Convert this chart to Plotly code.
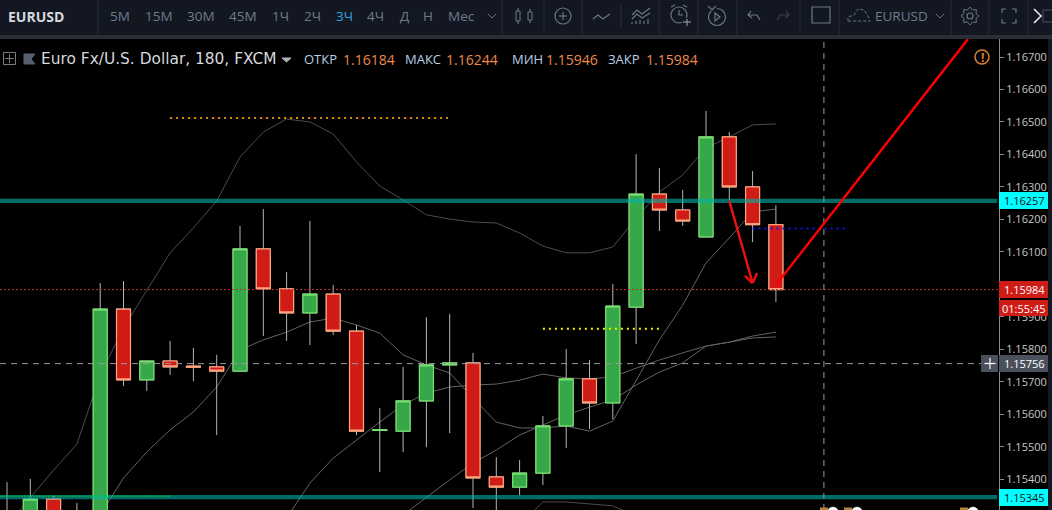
import math
import plotly.graph_objects as go

# candles, index 0..33 (prices)
opens = [1.15250, 1.15250, 1.15339, 1.15290, 1.15200, 1.15924, 1.15706, 1.15764, 1.15748, 1.15746, 1.15733, 1.16109,
         1.15986, 1.15912, 1.15970, 1.15856, 1.15550, 1.15548, 1.15641, 1.15752, 1.15758, 1.15407, 1.15376, 1.15419,
         1.15564, 1.15709, 1.15635, 1.15930, 1.16278, 1.16229, 1.16146, 1.16454, 1.16300, 1.16184]
highs = [1.15391, 1.15401, 1.15348, 1.15327, 1.16004, 1.16010, 1.15764, 1.15826, 1.15804, 1.15783, 1.16180, 1.16232,
         1.16038, 1.16195, 1.15998, 1.15875, 1.15619, 1.15746, 1.15899, 1.15909, 1.15789, 1.15468, 1.15459, 1.15595,
         1.15801, 1.15767, 1.16001, 1.16401, 1.16358, 1.16291, 1.16534, 1.16469, 1.16349, 1.16244]
lows = [1.15200, 1.15200, 1.15200, 1.15200, 1.15150, 1.15687, 1.15672, 1.15721, 1.15702, 1.15536, 1.15733, 1.15841,
        1.15826, 1.15813, 1.15844, 1.15536, 1.15422, 1.15484, 1.15499, 1.15542, 1.15311, 1.15290, 1.15351, 1.15382,
        1.15496, 1.15555, 1.15585, 1.15816, 1.16164, 1.16180, 1.16146, 1.16260, 1.16130, 1.15946]
closes = [1.15290, 1.15339, 1.15250, 1.15260, 1.15924, 1.15706, 1.15764, 1.15746, 1.15745, 1.15733, 1.16109, 1.15986,
          1.15912, 1.15970, 1.15856, 1.15548, 1.15553, 1.15641, 1.15752, 1.15758, 1.15404, 1.15376, 1.15419, 1.15564,
          1.15709, 1.15635, 1.15933, 1.16278, 1.16229, 1.16195, 1.16454, 1.16300, 1.16184, 1.15984]

# gray indicator lines
band_upper = [1.15259, 1.15345, 1.15428, 1.15508, 1.15721, 1.15866, 1.15983, 1.16097, 1.16174, 1.16257, 1.16392, 1.16469,
              1.16509, 1.16500, 1.16463, 1.16377, 1.16303, 1.16260, 1.16214, 1.16201, 1.16192, 1.16189, 1.16158, 1.16118,
              1.16097, 1.16097, 1.16115, 1.16204, 1.16284, 1.16337, 1.16420, 1.16454, 1.16491, 1.16494]
band_middle = [1.15290, 1.15404, 1.15484, 1.15552, 1.15607, 1.15684, 1.15798, 1.15829, 1.15853, 1.15884, 1.15896, 1.15875,
               1.15850, 1.15783, 1.15752, 1.15727, 1.15650, 1.15576, 1.15558, 1.15558, 1.15564, 1.15548, 1.15579, 1.15706,
               1.15829, 1.15936, 1.16066, 1.16143, 1.16223, 1.16232]
band_a = [1.15281, 1.15388, 1.15465, 1.15521, 1.15576, 1.15629, 1.15665, 1.15684, 1.15690, 1.15693, 1.15705, 1.15724,
          1.15712, 1.15709, 1.15715, 1.15742, 1.15767, 1.15789, 1.15810, 1.15822, 1.15841, 1.15853]
band_lower = [1.15290, 1.15345, 1.15398, 1.15450, 1.15490, 1.15536, 1.15567, 1.15598, 1.15622, 1.15644, 1.15690, 1.15730,
              1.15758, 1.15810, 1.15822, 1.15835, 1.15838]
band_low2 = [1.15259, 1.15330, 1.15330, 1.15324, 1.15318, 1.15287]

# 1.16000 sits fully behind the red price tag, so it is left out
tick_prices = [1.154, 1.155, 1.156, 1.157, 1.158, 1.159, 1.161, 1.162, 1.163, 1.164, 1.165, 1.166, 1.167]
tick_labels = ["1.15400", "1.15500", "1.15600", "1.15700", "1.15800", "1.15900", "1.16100", "1.16200",
               "1.16300", "1.16400", "1.16500", "1.16600", "1.16700"]

teal_levels = [1.16257, 1.15345]
last_price = 1.15984
cross_price = 1.15756
cross_x = 35.06

# drawn levels: x0, x1, price
orange_level = [7, 19, 1.16512]
yellow_level = [23, 28, 1.15863]
blue_level = [32, 36, 1.16172]
green_level = [-0.3, 7, 1.15348]

trend_x = [33, 41.24]
trend_y = [1.15998, 1.16755]
arrow_x = [31, 32]
arrow_y = [1.16257, 1.16004]
head_x = [31.67, 32, 32.19]
head_y = [1.16026, 1.16004, 1.16035]

timeframes = ["5М", "15М", "30М", "45М", "1Ч", "2Ч", "3Ч", "4Ч", "Д", "Н", "Мес"]
timeframe_x = [120, 159, 201, 243, 280, 312, 344, 375, 404, 428, 461]

W, H = 1052, 510
FONT = "Open Sans"
idx = list(range(len(opens)))


def px(x):
    return x / W


def py(y):
    return 1 - y / H


def path(points, close=False):
    s = "M" + " L".join(f"{px(a):.5f},{py(b):.5f}" for a, b in points)
    return s + (" Z" if close else "")


shapes = []
notes = []


def box(x0, y0, x1, y1, fill, line=None, lw=1):
    shapes.append(dict(type="rect", xref="paper", yref="paper", x0=px(x0), x1=px(x1), y0=py(y0), y1=py(y1),
                       fillcolor=fill, line=dict(color=line or fill, width=lw if line else 0), layer="above"))


def poly(points, color, lw=1.2, close=False, fill=None):
    shapes.append(dict(type="path", xref="paper", yref="paper", path=path(points, close), fillcolor=fill,
                       line=dict(color=color, width=lw), layer="above"))


def circle(cx, cy, r, color, lw=1.2, fill=None):
    shapes.append(dict(type="circle", xref="paper", yref="paper", x0=px(cx - r), x1=px(cx + r), y0=py(cy - r),
                       y1=py(cy + r), fillcolor=fill, line=dict(color=color, width=lw), layer="above"))


def text(x, y, s, color, size=13, anchor="left", bold=False, family=FONT):
    notes.append(dict(xref="paper", yref="paper", x=px(x), y=py(y), text=f"<b>{s}</b>" if bold else s, showarrow=False,
                      xanchor=anchor, yanchor="middle", font=dict(family=family, size=size, color=color),
                      borderpad=0, borderwidth=0))


def data_line(x0, x1, y0, y1, color, width, dash="solid"):
    shapes.append(dict(type="line", xref="x", yref="y", x0=x0, x1=x1, y0=y0, y1=y1,
                       line=dict(color=color, width=width, dash=dash), layer="above"))


fig = go.Figure()

# the lines go on the first axes, candles on an overlay so they cover the lines
line_sets = [(band_upper, 0, "#4c4c4c"), (band_middle, 4, "#636363"), (band_a, 12, "#636363"),
             (band_lower, 17, "#636363"), (band_low2, 22, "#4c4c4c")]
for values, start, color in line_sets:
    fig.add_trace(go.Scatter(x=idx[start:start + len(values)], y=values, mode="lines",
                             line=dict(color=color, width=1), hoverinfo="skip", showlegend=False))

fig.add_trace(go.Candlestick(x=idx, open=opens, high=highs, low=lows, close=closes, xaxis="x2", yaxis="y2",
                             whiskerwidth=0, showlegend=False, hoverinfo="skip",
                             increasing=dict(line=dict(color="#b4b4b4", width=1), fillcolor="#36a84a"),
                             decreasing=dict(line=dict(color="#b4b4b4", width=1), fillcolor="#d01c17")))
fig.add_trace(go.Candlestick(x=idx, open=opens, close=closes, xaxis="x2", yaxis="y2",
                             high=[max(a, b) for a, b in zip(opens, closes)],
                             low=[min(a, b) for a, b in zip(opens, closes)],
                             whiskerwidth=0, showlegend=False, hoverinfo="skip",
                             increasing=dict(line=dict(color="#74e06c", width=1.2), fillcolor="#36a84a"),
                             decreasing=dict(line=dict(color="#ffa27e", width=1.2), fillcolor="#d01c17")))

# levels
for level in teal_levels:
    shapes.append(dict(type="line", xref="paper", yref="y", x0=0, x1=px(997), y0=level, y1=level,
                       line=dict(color="rgba(0,180,170,0.6)", width=4.3), layer="above"))
shapes.append(dict(type="line", xref="paper", yref="y", x0=0, x1=px(999), y0=last_price, y1=last_price,
                   line=dict(color="#c42f2c", width=1, dash="2px,2px"), layer="above"))
shapes.append(dict(type="line", xref="paper", yref="y", x0=0, x1=px(981), y0=cross_price, y1=cross_price,
                   line=dict(color="#9a9a9a", width=1, dash="6px,5px"), layer="above"))
shapes.append(dict(type="line", xref="x", yref="paper", x0=cross_x, x1=cross_x, y0=0, y1=py(39),
                   line=dict(color="#9a9a9a", width=1, dash="6px,5px"), layer="above"))
data_line(orange_level[0], orange_level[1], orange_level[2], orange_level[2], "#e8891c", 2, "2px,4px")
data_line(yellow_level[0], yellow_level[1], yellow_level[2], yellow_level[2], "#f5f500", 2, "2px,4px")
data_line(blue_level[0], blue_level[1], blue_level[2], blue_level[2], "#1212ee", 2, "2px,4px")
data_line(green_level[0], green_level[1], green_level[2], green_level[2], "#12c83c", 1, "2px,1px")

# red drawings
data_line(trend_x[0], trend_x[1], trend_y[0], trend_y[1], "#ff0000", 2.4)
data_line(arrow_x[0], arrow_x[1], arrow_y[0], arrow_y[1], "#f01010", 2.4)
data_line(head_x[0], head_x[1], head_y[0], head_y[1], "#f01010", 2.4)
data_line(head_x[1], head_x[2], head_y[1], head_y[2], "#f01010", 2.4)

# small event marks cut by the bottom edge
for cx in [833, 857, 973]:
    box(cx - 13, 507.5, cx - 5, 510, "#b8853a")
    circle(cx, 512.5, 5.5, "#ffffff", 0.5, "#ffffff")

# toolbar
TOOL = "#131722"
ICON = "#6c7686"
box(0, 0, W, 35, TOOL)
box(0, 35, W, 39, "#2a2e39")
box(1048, 39, W, H, "#131722")
for x in [98, 502, 544, 582, 659, 698, 737, 800, 839, 951, 989, 1028]:
    box(x - 0.5, 0, x + 0.5, 35, "#262a36")
box(620.5, 5, 621.5, 27, "#2a2e39")

text(8, 16, "EURUSD", "#d6d8de", 14, bold=True)
for label, x in zip(timeframes, timeframe_x):
    text(x, 16.5, label, "#2ea7e0" if label == "3Ч" else "#6f7b8c", 13.5, "center")
poly([(488, 14), (492, 18), (496, 14)], ICON, 1)

# candle icon
for x, top, bottom in [(518, 11, 21), (530, 12, 20)]:
    box(x - 2, top, x + 2, bottom, "rgba(0,0,0,0)", ICON, 1)
    poly([(x, top - 3), (x, top)], ICON)
    poly([(x, bottom), (x, bottom + 3)], ICON)

circle(563, 16, 8, ICON)
poly([(563, 12), (563, 20)], ICON)
poly([(559, 16), (567, 16)], ICON)
poly([(593, 19), (598, 15), (603, 19), (610, 14)], ICON)
poly([(632, 15), (637, 10), (642, 14), (650, 8)], ICON)
poly([(632, 19), (637, 14), (642, 18), (650, 13)], ICON)
for x, top in [(632, 22), (636, 21), (640, 20), (644, 21), (648, 19)]:
    poly([(x, top), (x, 24)], ICON)

# alarm
circle(679, 15, 8, ICON)
poly([(679, 10), (679, 15), (683, 15)], ICON)
poly([(671, 7), (675, 5)], ICON)
poly([(683, 5), (687, 7)], ICON)
box(682, 18, 692, 26, TOOL)
poly([(687, 19), (687, 26)], "#8a93a3")
poly([(683, 22), (691, 22)], "#8a93a3")

# replay
circle(717, 17, 8.5, ICON)
box(710, 5, 717, 11, TOOL)
poly([(708, 6), (712, 10), (716, 6)], ICON)
poly([(715, 13), (720, 17), (715, 21)], ICON, close=True)

# undo / redo
poly([(751, 11), (748, 15), (752, 18)], ICON)
poly([(748, 15), (757, 15), (760, 20)], ICON)
poly([(786, 11), (789, 15), (785, 18)], "#3a4150")
poly([(789, 15), (780, 15), (777, 20)], "#3a4150")

shapes.append(dict(type="rect", xref="paper", yref="paper", x0=px(812), x1=px(830), y0=py(7), y1=py(23),
                   line=dict(color=ICON, width=1.2), layer="above"))
poly([(848, 21), (848, 17), (854, 15), (858, 9), (864, 10), (868, 16), (870, 21), (848, 21)], ICON, 1)
shapes[-1]["line"]["dash"] = "3px,2px"
text(875, 16.5, "EURUSD", "#6f7b8c", 13.5)
poly([(936, 14), (940, 18), (944, 14)], ICON, 1)

# gear
teeth = []
for k in range(16):
    r = 9 if k % 2 == 0 else 6.5
    teeth.append((970 + r * math.cos(k * math.pi / 8), 16 + r * math.sin(k * math.pi / 8)))
poly(teeth, ICON, 1, close=True)
circle(970, 16, 3, ICON)

# fullscreen
for sx, sy in [(-1, -1), (1, -1), (-1, 1), (1, 1)]:
    poly([(1009 + sx * 7, 16 + sy * 3), (1009 + sx * 7, 16 + sy * 7), (1009 + sx * 3, 16 + sy * 7)], ICON)
poly([(1034, 9), (1041, 16), (1034, 23)], "#e8e8e8", 1.6)
box(1043, 10, W + 4, 22, "rgba(0,0,0,0)", "#4a5060", 1)

# header line
box(3.5, 52.5, 15.5, 64.5, "rgba(0,0,0,0)", "#7c7c7c", 1)
poly([(9.5, 54), (9.5, 63)], "#7c7c7c", 1)
poly([(5, 58.5), (14, 58.5)], "#7c7c7c", 1)
poly([(24, 54), (35, 54), (31, 59), (35, 64), (24, 64)], "#565f6c", 1, True, "#565f6c")
text(41, 59, "Euro Fx/U.S. Dollar, 180, FXCM", "#d6d8de", 15.4, family="DejaVu Sans")
poly([(282, 58), (291, 58), (286.5, 62)], "#b0b3bb", 1, True, "#b0b3bb")
LABEL = "#b8cfe6"
VALUE = "#ef8a4a"
for name, value, x_name, x_value in [("ОТКР", "1.16184", 304, 343), ("МАКС", "1.16244", 405, 446),
                                     ("МИН", "1.15946", 512, 546), ("ЗАКР", "1.15984", 608, 646)]:
    text(x_name, 59, name, LABEL, 13)
    text(x_value, 59, value, VALUE, 14)

circle(982, 57, 7, "#d9802e", 1.5)
text(982, 57, "!", "#d9802e", 12, "center", bold=True)

# price tags on the axis
for level, top in [(teal_levels[0], 192), (teal_levels[1], 489)]:
    box(999, top, 1048, top + 17, "#00ffff")
    text(1045, top + 8.5, f"{level:.5f}", "#111111", 11, "right")
box(999, 281, 1048, 298, "#d01c17")
text(1045, 289.5, f"{last_price:.5f}", "#ffffff", 11, "right")
box(999, 300, 1048, 316, "#d01c17")
text(1024, 308, "01:55:45", "#ffffff", 11, "center")
box(981, 355, 998, 372, "#4a505c")
poly([(990, 358), (990, 369)], "#ffffff", 1.2)
poly([(984.5, 363.5), (995.5, 363.5)], "#ffffff", 1.2)
box(999, 355, 1048, 372, "#4a505c")
text(1045, 363.5, f"{cross_price:.5f}", "#ffffff", 11, "right")
text(1045, 513, "1.15300", "#c8c8c8", 11, "right")

y_range = [1.167 - (H - 57) / 32480, 1.167 + 18 / 32480]
x_range = [-7 / 23.3, (999 - 7) / 23.3]

fig.update_layout(
    width=W, height=H, margin=dict(l=0, r=0, t=0, b=0), autosize=False,
    paper_bgcolor="#000000", plot_bgcolor="#000000", showlegend=False, dragmode=False,
    boxgap=0.4, boxgroupgap=0, hovermode=False,
    font=dict(family=FONT),
    xaxis=dict(domain=[0, 999 / W], range=x_range, visible=False, fixedrange=True, rangeslider=dict(visible=False)),
    yaxis=dict(domain=[0, (H - 39) / H], range=y_range, side="right", showgrid=False, zeroline=False, fixedrange=True,
               showline=True, linecolor="#8a8a8a", linewidth=1, ticks="outside", ticklen=4, tickcolor="#8a8a8a",
               tickvals=tick_prices, ticktext=tick_labels, tickfont=dict(family=FONT, size=11, color="#c8c8c8")),
    xaxis2=dict(overlaying="x", anchor="y2", range=x_range, visible=False, fixedrange=True,
                rangeslider=dict(visible=False)),
    yaxis2=dict(overlaying="y", anchor="x2", range=y_range, visible=False, fixedrange=True),
    shapes=shapes, annotations=notes,
)

fig.write_html("out.html", config=dict(displayModeBar=False),
               post_script="document.body.style.margin='0';document.body.style.overflow='hidden';")
